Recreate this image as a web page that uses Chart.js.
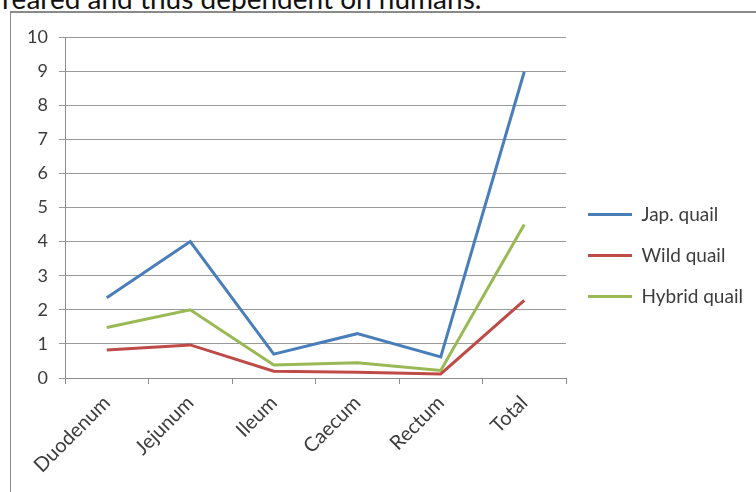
<!DOCTYPE html>
<html>
<head>
<meta charset="utf-8">
<script src="https://cdn.jsdelivr.net/npm/chart.js@4/dist/chart.umd.min.js"></script>
<style>
  html, body { margin: 0; padding: 0; background: #fff; overflow: hidden; }
  body { width: 756px; height: 492px; position: relative; }
  #caption {
    position: absolute; left: 2px; top: -19px; line-height: 1.2;
    font: 28px Lato, "Open Sans", sans-serif; color: #111; white-space: nowrap;
  }
  #box {
    position: absolute; left: 10px; top: 11px; width: 760px; height: 500px;
    border: 1px solid #8a8a8a; border-top: 2px solid #8a8a8a; background: #fff;
  }
  #wrap { position: absolute; left: 11px; top: 13px; width: 745px; height: 479px; }
</style>
</head>
<body>
<div id="caption">reared and thus dependent on humans.</div>
<div id="box"></div>
<div id="wrap"><canvas id="quailChart"></canvas></div>
<script>
// Kategorien (Darmabschnitte)
const segments = ["Duodenum", "Jejunum", "Ileum", "Caecum", "Rectum", "Total"];
// Werte je Wachtelgruppe
const japQuail = [2.35, 4.0, 0.7, 1.3, 0.62, 8.98];
const wildQuail = [0.82, 0.97, 0.2, 0.17, 0.12, 2.28];
const hybridQuail = [1.48, 2.0, 0.38, 0.45, 0.22, 4.5];
const yTicks = [0, 1, 2, 3, 4, 5, 6, 7, 8, 9, 10];

const fontFam = "Lato, 'Open Sans', sans-serif";
const txtColor = "#3c3c3c";

let ctx = document.getElementById("quailChart").getContext("2d");

const quailChart = new Chart(ctx, {
    type: 'line',
    data: {
        labels: segments,
        datasets: [
            { label: "Jap. quail", data: japQuail, borderColor: "#4a7ebb", backgroundColor: "#4a7ebb", borderWidth: 3 },
            { label: "Wild quail", data: wildQuail, borderColor: "#be4b48", backgroundColor: "#be4b48", borderWidth: 3 },
            { label: "Hybrid quail", data: hybridQuail, borderColor: "#98b954", backgroundColor: "#98b954", borderWidth: 3 }
        ]
    },
    options: {
        responsive: true,
        maintainAspectRatio: false,
        animation: false,
        elements: {
            line: { tension: 0 },
            point: { radius: 0, hoverRadius: 0 }
        },
        layout: { padding: { top: 24, left: 0, right: 5, bottom: 18 } },
        plugins: {
            tooltip: { enabled: false },
            legend: {
                position: 'right',
                labels: {
                    usePointStyle: true,
                    pointStyle: 'line',
                    pointStyleWidth: 44,
                    padding: 22,
                    color: txtColor,
                    font: { family: fontFam, size: 19 }
                }
            }
        },
        scales: {
            x: {
                offset: true,
                grid: { display: true, drawOnChartArea: false, offset: true, tickLength: 6, color: "#8c8c8c" },
                border: { color: "#8c8c8c", width: 1 },
                ticks: {
                    minRotation: 45, maxRotation: 45, color: txtColor, padding: 7,
                    font: { family: fontFam, size: 20 }
                },
                afterFit: (scale) => { scale.height = 96; }
            },
            y: {
                min: 0, max: 10,
                afterBuildTicks: (scale) => { scale.ticks = yTicks.map(v => ({ value: v })); },
                grid: { color: "#9a9a9a", tickLength: 6 },
                border: { color: "#8c8c8c", width: 1 },
                ticks: { color: txtColor, padding: 11, font: { family: fontFam, size: 18 } },
                afterFit: (scale) => { scale.width = 54; }
            }
        }
    }
});
</script>
</body>
</html>
